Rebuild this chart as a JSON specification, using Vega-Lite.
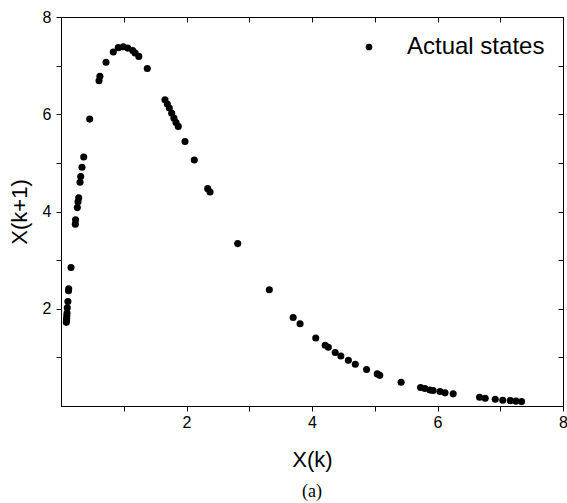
{
  "$schema": "https://vega.github.io/schema/vega-lite/v6.json",
  "width": 502,
  "height": 389,
  "autosize": "none",
  "padding": {"left": 61, "top": 17, "right": 4, "bottom": 97},
  "background": "white",
  "title": {"text": "(a)", "orient": "bottom", "font": "Liberation Serif", "fontSize": 18, "fontWeight": "normal", "color": "black", "offset": 13},
  "config": {
    "view": {"stroke": "black", "strokeWidth": 1},
    "axis": {"grid": false, "domainColor": "black", "tickColor": "black", "labelColor": "black", "titleColor": "black", "labelFont": "Liberation Sans", "titleFont": "Liberation Sans", "labelFontSize": 16, "titleFontSize": 22, "titleFontWeight": "normal", "tickSize": 5}
  },
  "data": {"values": [
    {"x": 0.085, "y": 1.72, "series": "Actual states"},
    {"x": 0.088, "y": 1.76, "series": "Actual states"},
    {"x": 0.09, "y": 1.80, "series": "Actual states"},
    {"x": 0.092, "y": 1.85, "series": "Actual states"},
    {"x": 0.096, "y": 1.91, "series": "Actual states"},
    {"x": 0.1, "y": 2.02, "series": "Actual states"},
    {"x": 0.11, "y": 2.15, "series": "Actual states"},
    {"x": 0.12, "y": 2.37, "series": "Actual states"},
    {"x": 0.123, "y": 2.41, "series": "Actual states"},
    {"x": 0.16, "y": 2.85, "series": "Actual states"},
    {"x": 0.228, "y": 3.74, "series": "Actual states"},
    {"x": 0.232, "y": 3.83, "series": "Actual states"},
    {"x": 0.26, "y": 4.08, "series": "Actual states"},
    {"x": 0.271, "y": 4.20, "series": "Actual states"},
    {"x": 0.282, "y": 4.28, "series": "Actual states"},
    {"x": 0.303, "y": 4.60, "series": "Actual states"},
    {"x": 0.314, "y": 4.72, "series": "Actual states"},
    {"x": 0.335, "y": 4.91, "series": "Actual states"},
    {"x": 0.362, "y": 5.12, "series": "Actual states"},
    {"x": 0.457, "y": 5.90, "series": "Actual states"},
    {"x": 0.606, "y": 6.69, "series": "Actual states"},
    {"x": 0.62, "y": 6.78, "series": "Actual states"},
    {"x": 0.717, "y": 7.07, "series": "Actual states"},
    {"x": 0.833, "y": 7.28, "series": "Actual states"},
    {"x": 0.913, "y": 7.37, "series": "Actual states"},
    {"x": 0.993, "y": 7.39, "series": "Actual states"},
    {"x": 1.063, "y": 7.36, "series": "Actual states"},
    {"x": 1.143, "y": 7.31, "series": "Actual states"},
    {"x": 1.18, "y": 7.26, "series": "Actual states"},
    {"x": 1.24, "y": 7.19, "series": "Actual states"},
    {"x": 1.375, "y": 6.94, "series": "Actual states"},
    {"x": 1.657, "y": 6.30, "series": "Actual states"},
    {"x": 1.694, "y": 6.21, "series": "Actual states"},
    {"x": 1.726, "y": 6.13, "series": "Actual states"},
    {"x": 1.764, "y": 6.02, "series": "Actual states"},
    {"x": 1.80, "y": 5.92, "series": "Actual states"},
    {"x": 1.833, "y": 5.83, "series": "Actual states"},
    {"x": 1.869, "y": 5.75, "series": "Actual states"},
    {"x": 1.976, "y": 5.44, "series": "Actual states"},
    {"x": 2.124, "y": 5.06, "series": "Actual states"},
    {"x": 2.338, "y": 4.47, "series": "Actual states"},
    {"x": 2.375, "y": 4.40, "series": "Actual states"},
    {"x": 2.816, "y": 3.34, "series": "Actual states"},
    {"x": 3.32, "y": 2.39, "series": "Actual states"},
    {"x": 3.70, "y": 1.82, "series": "Actual states"},
    {"x": 3.81, "y": 1.69, "series": "Actual states"},
    {"x": 4.06, "y": 1.40, "series": "Actual states"},
    {"x": 4.21, "y": 1.25, "series": "Actual states"},
    {"x": 4.26, "y": 1.21, "series": "Actual states"},
    {"x": 4.37, "y": 1.10, "series": "Actual states"},
    {"x": 4.46, "y": 1.03, "series": "Actual states"},
    {"x": 4.58, "y": 0.94, "series": "Actual states"},
    {"x": 4.69, "y": 0.86, "series": "Actual states"},
    {"x": 4.87, "y": 0.75, "series": "Actual states"},
    {"x": 5.04, "y": 0.66, "series": "Actual states"},
    {"x": 5.08, "y": 0.63, "series": "Actual states"},
    {"x": 5.42, "y": 0.49, "series": "Actual states"},
    {"x": 5.73, "y": 0.38, "series": "Actual states"},
    {"x": 5.80, "y": 0.36, "series": "Actual states"},
    {"x": 5.88, "y": 0.33, "series": "Actual states"},
    {"x": 5.93, "y": 0.32, "series": "Actual states"},
    {"x": 6.04, "y": 0.30, "series": "Actual states"},
    {"x": 6.12, "y": 0.27, "series": "Actual states"},
    {"x": 6.25, "y": 0.25, "series": "Actual states"},
    {"x": 6.67, "y": 0.18, "series": "Actual states"},
    {"x": 6.76, "y": 0.16, "series": "Actual states"},
    {"x": 6.92, "y": 0.14, "series": "Actual states"},
    {"x": 7.04, "y": 0.12, "series": "Actual states"},
    {"x": 7.16, "y": 0.11, "series": "Actual states"},
    {"x": 7.25, "y": 0.10, "series": "Actual states"},
    {"x": 7.34, "y": 0.09, "series": "Actual states"}
  ]},
  "resolve": {"axis": {"x": "independent", "y": "independent"}},
  "layer": [
    {
      "mark": {"type": "point", "filled": true, "opacity": 1, "size": 50},
      "encoding": {
        "x": {"field": "x", "type": "quantitative", "scale": {"domain": [0, 8], "nice": false, "zero": false},
          "axis": {"title": "X(k)", "values": [1, 2, 3, 4, 5, 6, 7, 8], "labelExpr": "datum.value % 2 == 0 ? datum.label : ''", "labelPadding": 3, "titlePadding": 19, "labelFlush": false}},
        "y": {"field": "y", "type": "quantitative", "scale": {"domain": [0, 8], "nice": false, "zero": false},
          "axis": {"title": "X(k+1)", "values": [1, 2, 3, 4, 5, 6, 7, 8], "labelExpr": "datum.value % 2 == 0 ? datum.label : ''", "labelPadding": 5, "titlePadding": 11, "labelFlush": false}},
        "color": {"field": "series", "type": "nominal", "scale": {"range": ["black"]},
          "legend": {"title": null, "orient": "top-right", "offset": 18, "labelFont": "Liberation Sans", "labelFontSize": 24, "labelColor": "black", "symbolType": "circle", "symbolSize": 45, "labelOffset": 26, "symbolOffset": 0}}
      }
    },
    {
      "mark": {"type": "point", "opacity": 0},
      "encoding": {
        "x": {"field": "x", "type": "quantitative", "scale": {"domain": [0, 8], "nice": false, "zero": false},
          "axis": {"orient": "top", "title": null, "labels": false, "values": [1, 2, 3, 4, 5, 6, 7, 8], "tickSize": -5, "domain": false}},
        "y": {"field": "y", "type": "quantitative", "scale": {"domain": [0, 8], "nice": false, "zero": false},
          "axis": {"orient": "right", "title": null, "labels": false, "values": [1, 2, 3, 4, 5, 6, 7, 8], "tickSize": -5, "domain": false}}
      }
    }
  ]
}
